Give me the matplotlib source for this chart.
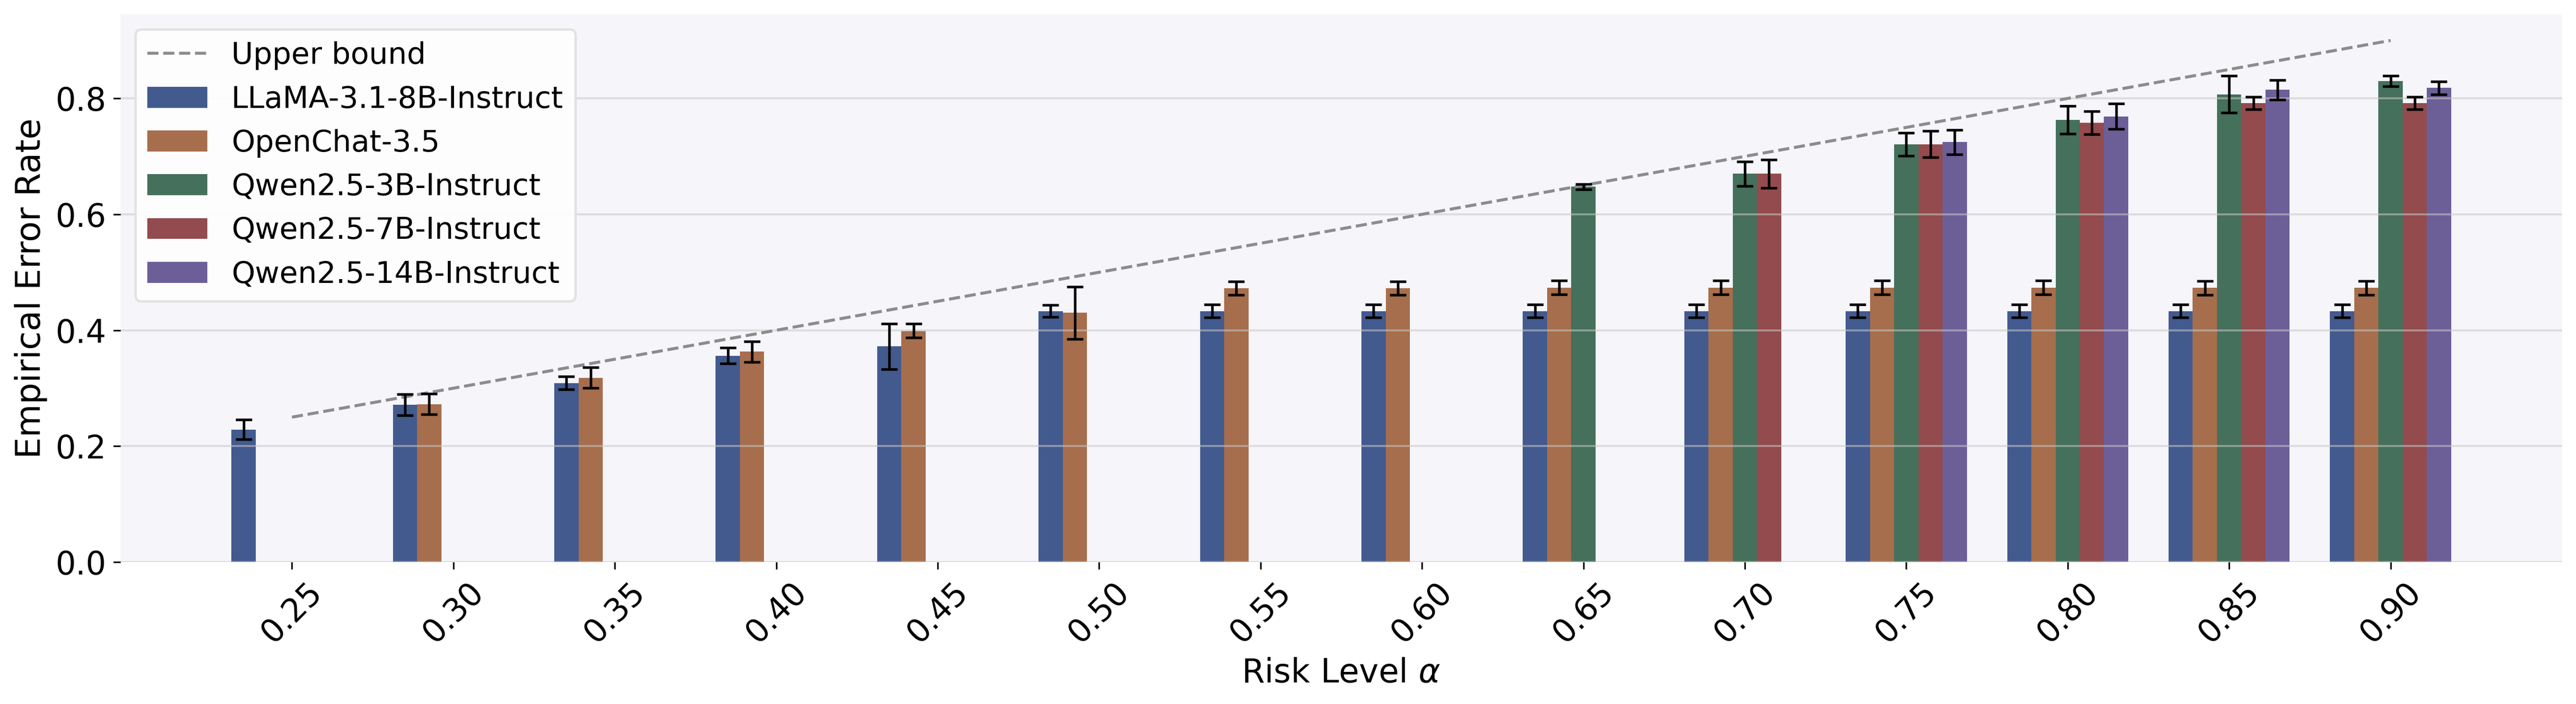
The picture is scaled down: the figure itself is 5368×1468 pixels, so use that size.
import numpy as np
import matplotlib.pyplot as plt

nan = np.nan

alphas = [0.25, 0.30, 0.35, 0.40, 0.45, 0.50, 0.55, 0.60, 0.65, 0.70, 0.75, 0.80, 0.85, 0.90]
tick_labels = ['%.2f' % a for a in alphas]

models = ['LLaMA-3.1-8B-Instruct', 'OpenChat-3.5', 'Qwen2.5-3B-Instruct',
          'Qwen2.5-7B-Instruct', 'Qwen2.5-14B-Instruct']
colors = ['#435a8f', '#a66e4c', '#45705b', '#934b4d', '#6c5f98']

llama = [0.2285, 0.2716, 0.309, 0.356, 0.372, 0.433, 0.433, 0.433, 0.433, 0.433, 0.433, 0.433, 0.433, 0.433]
llama_err = [0.017, 0.018, 0.011, 0.0135, 0.039, 0.0105, 0.011, 0.011, 0.011, 0.011, 0.011, 0.011, 0.011, 0.011]

openchat = [nan, 0.2726, 0.318, 0.363, 0.399, 0.430, 0.4726, 0.4726, 0.4736, 0.4736, 0.4736, 0.4736, 0.473, 0.473]
openchat_err = [nan, 0.018, 0.018, 0.0176, 0.012, 0.045, 0.0116, 0.0116, 0.012, 0.012, 0.012, 0.012, 0.012, 0.012]

qwen3b = [nan] * 8 + [0.6477, 0.670, 0.721, 0.763, 0.807, 0.830]
qwen3b_err = [nan] * 8 + [0.0045, 0.021, 0.020, 0.024, 0.032, 0.009]

qwen7b = [nan] * 9 + [0.670, 0.721, 0.758, 0.792, 0.792]
qwen7b_err = [nan] * 9 + [0.0245, 0.0227, 0.020, 0.0105, 0.0105]

qwen14b = [nan] * 10 + [0.7247, 0.769, 0.815, 0.818]
qwen14b_err = [nan] * 10 + [0.021, 0.022, 0.017, 0.011]

series = [(llama, llama_err), (openchat, openchat_err), (qwen3b, qwen3b_err),
          (qwen7b, qwen7b_err), (qwen14b, qwen14b_err)]

fig = plt.figure(figsize=(5368 / 300, 1468 / 300), dpi=300)
ax = fig.add_axes([251 / 5368, 1 - 1172 / 1468, (5339 - 251) / 5368, (1172 - 30) / 1468])
ax.set_facecolor('#f5f5fa')

x = np.arange(len(alphas))
width = 0.15

handles = []
line, = ax.plot(x, alphas, ls='--', color='#8c8c8c', lw=1.5, zorder=3, label='Upper bound')
handles.append(line)

for i, (vals, errs) in enumerate(series):
    vals = np.array(vals)
    errs = np.array(errs)
    m = ~np.isnan(vals)
    pos = x + (i - 2) * width
    b = ax.bar(pos[m], vals[m], width, color=colors[i], label=models[i], zorder=1)
    ax.errorbar(pos[m], vals[m], yerr=errs[m], fmt='none', ecolor='black',
                elinewidth=1.3, capsize=4, capthick=1.3, zorder=4)
    handles.append(b)

ax.set_xticks(x)
ax.set_xticklabels(tick_labels, rotation=45, fontsize=16)
ax.tick_params(axis='y', labelsize=16)
ax.tick_params(length=3.5, width=0.8)
ax.set_xlabel(r'Risk Level $\alpha$', fontsize=16.5)
ax.set_ylabel('Empirical Error Rate', fontsize=17)

ax.yaxis.grid(True, color='#c8c8c8', alpha=0.55, lw=1.0)
ax.set_axisbelow('line')
for s in ax.spines.values():
    s.set_visible(False)

leg = ax.legend(handles=handles, loc='upper left', fontsize=15, framealpha=0.9,
                edgecolor='#e0e0e0', fancybox=True)
leg.get_frame().set_linewidth(1.2)

fig.savefig('out.png', dpi=300)
